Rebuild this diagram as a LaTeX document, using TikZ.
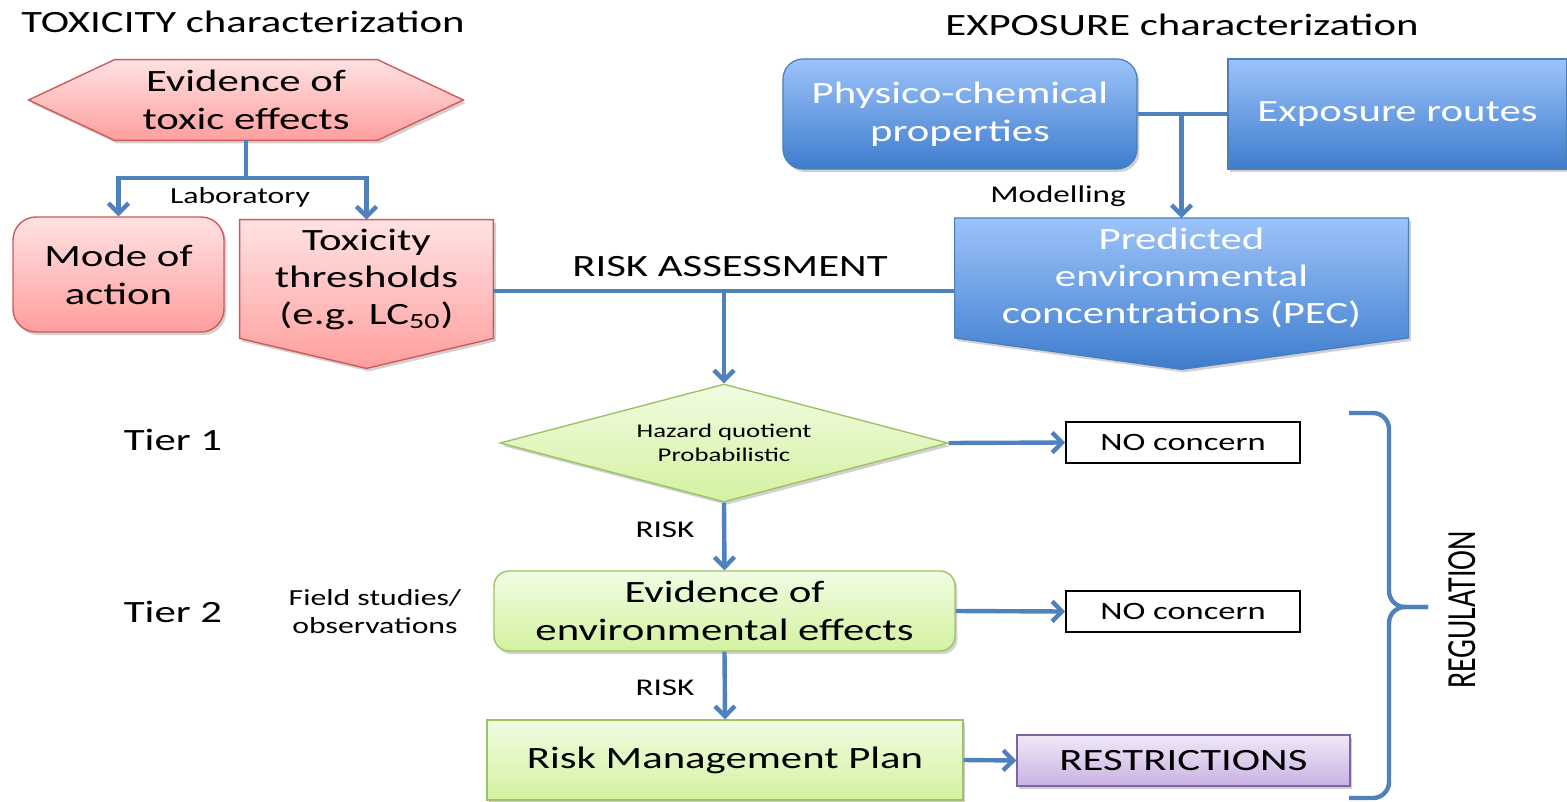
\documentclass[tikz,border=0pt]{standalone}
\usepackage{fontspec}
\setmainfont[FakeStretch=1.38]{Carlito}
\newfontfamily\regfont{Carlito}
\usetikzlibrary{arrows.meta,shapes.geometric,shadows,calc}
\definecolor{conn}{HTML}{4F81BD}
\definecolor{pinktop}{HTML}{FFE2E2}
\definecolor{pinkbot}{HTML}{FF9E9E}
\definecolor{pinkedge}{HTML}{D05A5A}
\definecolor{bluetop}{HTML}{9CC3FA}
\definecolor{bluebot}{HTML}{3E7CCD}
\definecolor{blueedge}{HTML}{4A7EBB}
\definecolor{greentop}{HTML}{F1FCE2}
\definecolor{greenbot}{HTML}{D3F2A0}
\definecolor{greenedge}{HTML}{9FC264}
\definecolor{purptop}{HTML}{F0E8F8}
\definecolor{purpbot}{HTML}{C8B2E2}
\definecolor{purpedge}{HTML}{8064A2}
\pgfdeclarelayer{bg}
\pgfsetlayers{bg,main}
\begin{document}
\begin{tikzpicture}[x=0.5pt,y=-0.5pt,
  big/.style={font=\fontsize{15.5}{19}\selectfont, align=center, inner sep=0pt},
  small/.style={font=\fontsize{11.5}{14}\selectfont, align=center, inner sep=0pt},
  shadowed/.style={drop shadow={shadow xshift=1.2pt, shadow yshift=-1.5pt, opacity=0.3, fill=black!60}},
  pinkbox/.style={draw=pinkedge, line width=0.7pt, top color=pinktop, bottom color=pinkbot},
  bluebox/.style={draw=blueedge, line width=0.6pt, top color=bluetop, bottom color=bluebot, text=white},
  greenbox/.style={draw=greenedge, line width=0.7pt, top color=greentop, bottom color=greenbot},
  purpbox/.style={draw=purpedge, line width=0.7pt, top color=purptop, bottom color=purpbot},
  plainbox/.style={draw=black, line width=0.8pt, fill=white},
  cline/.style={draw=conn, line width=2.2pt},
  carrow/.style={cline, -{Straight Barb[length=5pt,width=10pt]}}
]
\useasboundingbox (0,0) rectangle (1567,802);

% titles
\node[big] (ttox) at (243,22) {TOXICITY characterization};
\node[big] (texp) at (1182,25) {EXPOSURE characterization};

% toxicity side
\node[big, minimum width=131pt, minimum height=40pt] (hex) at (246,100) {Evidence of\\toxic effects};
\node[big, pinkbox, shadowed, rounded corners=11.5pt, minimum width=105.5pt, minimum height=57.5pt] (mode) at (118.5,274.5) {Mode of\\action};
\node[big, font=\fontsize{15.5}{18.5}\selectfont, minimum width=126.5pt, minimum height=59pt] (tox) at (366.5,279) {Toxicity\\thresholds\\(e.g. LC\textsubscript{50})};

% exposure side
\node[big, bluebox, shadowed, rounded corners=10pt, minimum width=177pt, minimum height=55pt] (phys) at (960,114) {Physico-chemical\\properties};
\node[big, bluebox, shadowed, minimum width=169.5pt, minimum height=55pt] (expo) at (1397.5,114) {Exposure routes};
\node[big, font=\fontsize{15.5}{18.5}\selectfont, text=white, minimum width=226.5pt, minimum height=59.5pt] (pec) at (1181.5,278) {Predicted\\environmental\\concentrations (PEC)};

\begin{pgfonlayer}{bg}
\path[pinkbox, shadowed] (hex.north west) -- (hex.north east) -- ($(hex.east)+(86,0)$) -- (hex.south east) -- (hex.south west) -- ($(hex.west)+(-86,0)$) -- cycle;
\path[pinkbox, shadowed] (tox.north west) -- (tox.north east) -- (tox.south east) -- ($(tox.south)+(0,30)$) -- (tox.south west) -- cycle;
\path[bluebox, shadowed] (pec.north west) -- (pec.north east) -- (pec.south east) -- ($(pec.south)+(0,31.5)$) -- (pec.south west) -- cycle;
\end{pgfonlayer}

% tiers
\node[diamond, aspect=3.8, greenbox, shadowed, minimum width=224pt, minimum height=59pt, inner sep=0pt, align=center, font=\fontsize{9.7}{12}\selectfont] (dia) at (724,443) {Hazard quotient\\Probabilistic};
\node[big, plainbox, font=\fontsize{12.5}{15}\selectfont, minimum width=117pt, minimum height=20.5pt] (no1) at (1183,442.5) {NO concern};
\node[big, greenbox, shadowed, rounded corners=7.5pt, minimum width=230.5pt, minimum height=40pt] (env) at (724.5,611) {Evidence of\\environmental effects};
\node[big, plainbox, font=\fontsize{12.5}{15}\selectfont, minimum width=117pt, minimum height=20.5pt] (no2) at (1183,611.5) {NO concern};
\node[big, greenbox, shadowed, minimum width=238pt, minimum height=40pt] (rmp) at (725,760) {Risk Management Plan};
\node[big, purpbox, shadowed, minimum width=166.5pt, minimum height=25.5pt] (restr) at (1183.5,760.5) {RESTRICTIONS};

% labels
\node[small] (lab) at (240,197) {Laboratory};
\node[small, font=\fontsize{12}{14}\selectfont] (mod) at (1058,196) {Modelling};
\node[big] (ra) at (730,267) {RISK ASSESSMENT};
\node[small, font=\fontsize{12}{14}\selectfont] (risk1) at (665,530) {RISK};
\node[small, font=\fontsize{12}{14}\selectfont] (risk2) at (665,688) {RISK};
\node[big] (tier1) at (173,440) {Tier 1};
\node[big] (tier2) at (173,612) {Tier 2};
\node[small] (field) at (375,612) {Field studies/\\observations};
\node[inner sep=0pt] (reg) at (1462,610) {\scalebox{1.38}[1]{\rotatebox{90}{\regfont\fontsize{15}{18}\selectfont REGULATION}}};

% connectors
\coordinate (lsplit) at (246,178);
\draw[cline] (hex.south) -- (lsplit);
\draw[carrow] (lsplit) -| (mode.north);
\draw[carrow] (lsplit) -| (tox.north);

\coordinate (pjoin) at (1181.5,113);
\draw[cline] (phys.east) -- (expo.west);
\draw[carrow] (pjoin) -- (pec.north);

\coordinate (rajoin) at (724,291);
\draw[cline] (tox.east |- rajoin) -- (pec.west |- rajoin);
\draw[carrow] (rajoin) -- (dia.north);

\draw[carrow] (dia.east) -- (no1.west);
\draw[carrow] (dia.south) -- (env.north);
\draw[carrow] (env.east) -- (no2.west);
\draw[carrow] (env.south) -- (rmp.north);
\draw[carrow] (rmp.east) -- (restr.west);

% brace
\coordinate (btop) at (1349,413);
\coordinate (btip) at (1428,607);
\coordinate (bbot) at (1349,798);
\draw[cline, rounded corners=8pt] (btop) -| (1389,607) -- (btip);
\draw[cline, rounded corners=8pt] (btip) -- (1389,607) |- (bbot);
\end{tikzpicture}
\end{document}
